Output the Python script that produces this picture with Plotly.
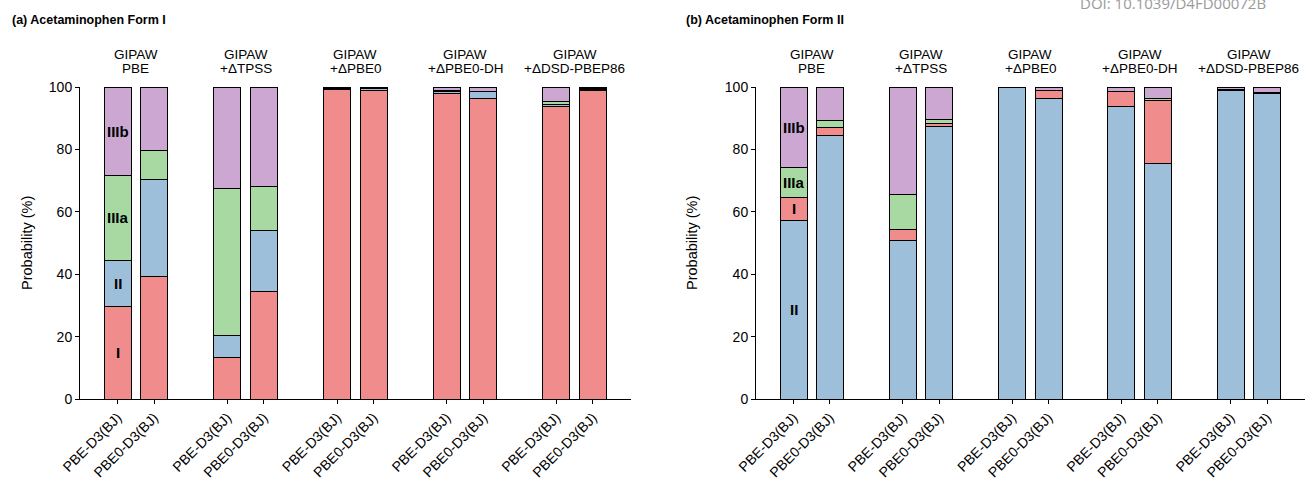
import plotly.graph_objects as go

W, H = 1306, 479

groups = ["GIPAW<br>PBE", "GIPAW<br>+ΔTPSS", "GIPAW<br>+ΔPBE0", "GIPAW<br>+ΔPBE0-DH", "GIPAW<br>+ΔDSD-PBEP86"]
methods = ["PBE-D3(BJ)", "PBE0-D3(BJ)"]

# Panel (a): Acetaminophen Form I  (bars ordered group by group, PBE-D3 then PBE0-D3)
a_I    = [29.5, 39.3, 13.3, 34.6, 99.3, 98.9, 97.9, 96.3, 93.8, 99.0]
a_II   = [14.9, 30.9, 7.0, 19.5, 0.2, 0.6, 0.8, 2.1, 0.6, 0.2]
a_IIIa = [27.3, 9.3, 47.2, 13.9, 0.1, 0.3, 0.2, 0.3, 1.1, 0.2]
a_IIIb = [28.3, 20.5, 32.5, 32.0, 0.4, 0.2, 1.1, 1.3, 4.5, 0.6]

# Panel (b): Acetaminophen Form II
b_II   = [57.2, 84.4, 50.9, 87.3, 99.8, 96.3, 93.8, 75.5, 99.0, 97.9]
b_I    = [7.4, 2.7, 3.4, 0.9, 0.1, 2.5, 4.7, 20.2, 0.1, 0.1]
b_IIIa = [9.6, 2.2, 11.1, 1.4, 0.0, 0.2, 0.1, 0.5, 0.1, 0.1]
b_IIIb = [25.8, 10.7, 34.6, 10.4, 0.1, 1.0, 1.4, 3.8, 0.8, 1.9]

colors = {"I": "#F08C8C", "II": "#9DBFDA", "IIIa": "#A8D9A2", "IIIb": "#CCA7D2"}

FONT = "Liberation Sans, Arial, Helvetica, sans-serif"

xpos = [g * 3 + j for g in range(len(groups)) for j in range(len(methods))]
ticktext = [m for g in groups for m in methods]

fig = go.Figure()

def add_panel(stack, xa, ya):
    for name, vals in stack:
        fig.add_trace(go.Bar(
            x=xpos, y=vals, name=name, width=0.74,
            marker=dict(color=colors[name], line=dict(color="black", width=1)),
            xaxis=xa, yaxis=ya, showlegend=False, hoverinfo="y+name"))
    # labels inside the first bar
    base = 0
    for name, vals in stack:
        fig.add_annotation(x=xpos[0], y=base + vals[0] / 2, xref=xa, yref=ya,
                           text="<b>%s</b>" % name, showarrow=False,
                           font=dict(family=FONT, size=15, color="black"))
        base += vals[0]

add_panel([("I", a_I), ("II", a_II), ("IIIa", a_IIIa), ("IIIb", a_IIIb)], "x", "y")
add_panel([("II", b_II), ("I", b_I), ("IIIa", b_IIIa), ("IIIb", b_IIIb)], "x2", "y2")

ydom = [(H - 399) / H, (H - 87) / H]
xdom_a = [80 / W, 631 / W]
xdom_b = [756 / W, 1305 / W]

xcommon = dict(range=[-1.03, 14.04], tickvals=xpos, ticktext=ticktext, tickangle=-45,
               showline=True, linecolor="black", linewidth=1, ticks="outside",
               ticklen=4, tickcolor="black", showgrid=False, zeroline=False,
               automargin=False,
               tickfont=dict(family=FONT, size=14, color="black"))
ycommon = dict(range=[0, 100], tickvals=[0, 20, 40, 60, 80, 100], showline=True,
               linecolor="black", linewidth=1, ticks="outside", ticklen=4,
               tickcolor="black", showgrid=False, zeroline=False, automargin=False,
               tickfont=dict(family=FONT, size=14, color="black"))

fig.update_layout(
    width=W, height=H, autosize=False, barmode="stack", plot_bgcolor="white",
    paper_bgcolor="white",
    margin=dict(l=0, r=0, t=0, b=0, pad=0),
    xaxis=dict(domain=xdom_a, anchor="y", **xcommon),
    yaxis=dict(domain=ydom, anchor="x", **ycommon),
    xaxis2=dict(domain=xdom_b, anchor="y2", **xcommon),
    yaxis2=dict(domain=ydom, anchor="x2", **ycommon),
    font=dict(family=FONT, color="black"),
)

# group headers (two tightly spaced lines)
for xa in ["x", "x2"]:
    for g, label in enumerate(groups):
        for k, line in enumerate(label.split("<br>")):
            fig.add_annotation(x=g * 3 + 0.5, y=(H - (55 + 13.5 * k)) / H, xref=xa,
                               yref="paper", text=line, showarrow=False, yanchor="middle",
                               font=dict(family=FONT, size=13.5, color="black"))

# panel titles
fig.add_annotation(x=10 / W, y=(H - 20) / H, xref="paper", yref="paper", xanchor="left",
                   yanchor="middle", text="<b>(a) Acetaminophen Form I</b>", showarrow=False,
                   font=dict(family=FONT, size=12.5, color="black"))
fig.add_annotation(x=684 / W, y=(H - 20) / H, xref="paper", yref="paper", xanchor="left",
                   yanchor="middle", text="<b>(b) Acetaminophen Form II</b>", showarrow=False,
                   font=dict(family=FONT, size=12.5, color="black"))

# y axis titles
for xp in [17, 692]:
    fig.add_annotation(x=xp / W, y=(H - 243) / H, xref="paper", yref="paper",
                       text="Probability (%)", textangle=-90, showarrow=False,
                       font=dict(family=FONT, size=14.5, color="black"))

# DOI watermark (cut at top edge, as in the source)
fig.add_annotation(x=1078 / W, y=(H - 3) / H, xref="paper", yref="paper", xanchor="left",
                   yanchor="middle", text="DOI: 10.1039/D4FD00072B", showarrow=False,
                   font=dict(family="Open Sans, sans-serif", size=15, color="#9a9a9a"))

fig.write_html("out.html", config={"displayModeBar": False},
               post_script="document.body.style.margin='0px';document.body.style.overflow='hidden';")
